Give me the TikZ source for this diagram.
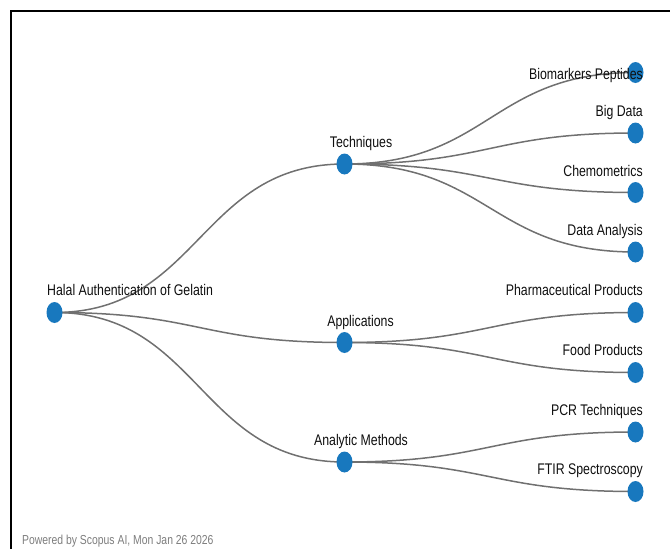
\documentclass[tikz,border=0pt]{standalone}
\usepackage{fontspec}
\setmainfont[FakeStretch=0.8]{Liberation Sans}
\usetikzlibrary{shapes.geometric}
\definecolor{nodeblue}{RGB}{24,120,190}
\definecolor{linkgray}{RGB}{112,112,112}
\definecolor{txt}{RGB}{15,15,15}
\definecolor{foot}{RGB}{125,125,125}
\tikzset{
  dot/.style={ellipse,fill=nodeblue,draw=none,minimum width=16pt,minimum height=21pt,inner sep=0pt},
  lbl/.style={text=txt,inner sep=0pt,font=\fontsize{15.4pt}{18pt}\selectfont},
  link/.style={draw=linkgray,line width=1.5pt},
  frameline/.style={draw=black,line width=2pt}
}
\begin{document}
\begin{tikzpicture}[x=1pt,y=-1pt]
\useasboundingbox (0,0) rectangle (670,549);
% frame
\coordinate (tl) at (11,11);
\coordinate (tr) at (670,11);
\coordinate (bl) at (11,549);
\draw[frameline] (tr) -- (tl) -- (bl);
% node positions
\coordinate (root) at (54.5,312.5);
\coordinate (tech) at (344.5,164);
\coordinate (appl) at (344.5,342.5);
\coordinate (anal) at (344.5,462);
\coordinate (bio) at (635.5,72.5);
\coordinate (big) at (635.5,133);
\coordinate (chem) at (635.5,192.5);
\coordinate (data) at (635.5,252);
\coordinate (pharm) at (635.5,312.5);
\coordinate (food) at (635.5,372.5);
\coordinate (pcr) at (635.5,432);
\coordinate (ftir) at (635.5,491.5);
% links
\foreach \a/\b in {root/tech,root/appl,root/anal,tech/bio,tech/big,tech/chem,tech/data,appl/pharm,appl/food,anal/pcr,anal/ftir}{
  \draw[link] (\a) .. controls +(145,0) and +(-145,0) .. (\b);
}
% dots
\foreach \n in {root,tech,appl,anal,bio,big,chem,data,pharm,food,pcr,ftir}{
  \node[dot] (d\n) at (\n) {};
}
% labels
\node[lbl,anchor=base west] (lroot) at (47,295) {Halal Authentication of Gelatin};
\node[lbl,anchor=base] (ltech) at (361,147) {Techniques};
\node[lbl,anchor=base] (lappl) at (360.5,326) {Applications};
\node[lbl,anchor=base] (lanal) at (361,445) {Analytic Methods};
\node[lbl,anchor=base east] (lbio) at (643,79) {Biomarkers Peptides};
\node[lbl,anchor=base east] (lbig) at (643,116) {Big Data};
\node[lbl,anchor=base east] (lchem) at (643,176) {Chemometrics};
\node[lbl,anchor=base east] (ldata) at (643,235) {Data Analysis};
\node[lbl,anchor=base east] (lpharm) at (643,295.5) {Pharmaceutical Products};
\node[lbl,anchor=base east] (lfood) at (643,355.5) {Food Products};
\node[lbl,anchor=base east] (lpcr) at (643,415) {PCR Techniques};
\node[lbl,anchor=base east] (lftir) at (643,474.5) {FTIR Spectroscopy};
\node[anchor=base west,inner sep=0pt,text=foot,font=\fontsize{13pt}{15pt}\selectfont] (footer) at (22,544.5) {Powered by Scopus AI, Mon Jan 26 2026};
\end{tikzpicture}
\end{document}
